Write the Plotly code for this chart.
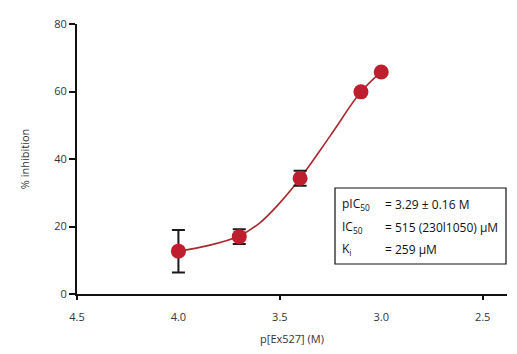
import plotly.graph_objects as go

# Data
p_conc = [4.0, 3.7, 3.4, 3.1, 3.0]
inhibition = [12.7, 17.0, 34.3, 59.9, 65.8]
err = [6.3, 2.2, 2.2, None, None]

fit_x = [4.0, 3.85, 3.70, 3.60, 3.50, 3.40, 3.25, 3.10, 3.0]
fit_y = [12.7, 14.4, 17.2, 21.0, 27.0, 34.3, 47.0, 59.9, 65.8]

x_ticks = [4.5, 4.0, 3.5, 3.0, 2.5]
x_tick_text = ["4.5", "4.0", "3.5", "3.0", "2.5"]
x_major = [4.5, 3.5, 2.5]
y_ticks = [0, 20, 40, 60, 80]

box_rows = [
    ("pIC<sub>50</sub>", "= 3.29 ± 0.16 M"),
    ("IC<sub>50</sub>", "= 515 (230l1050) µM"),
    ("K<sub>i</sub>", "= 259 µM"),
]

FONT = "Open Sans"
W, H = 517, 354
ml, mr, mt, mb = 77, 10, 24, 60
xr = [4.5, 2.38]
yr = [0, 80]

fig = go.Figure()
fig.add_trace(go.Scatter(
    x=fit_x, y=fit_y, mode="lines", line=dict(color="#A8282C", width=1.6, shape="spline", smoothing=1.0),
    hoverinfo="skip", showlegend=False))
fig.add_trace(go.Scatter(
    x=p_conc, y=inhibition, mode="markers",
    marker=dict(size=15, color="#BE1E2D"),
    error_y=dict(type="data", array=[e if e is not None else 0 for e in err],
                 visible=True, color="#1a1a1a", thickness=2, width=6.5),
    showlegend=False))
fig.add_trace(go.Scatter(x=[xr[0]], y=[None], xaxis="x2", showlegend=False, hoverinfo="skip"))

fig.update_layout(
    width=W, height=H, margin=dict(l=ml, r=mr, t=mt, b=mb),
    paper_bgcolor="white", plot_bgcolor="white",
    font=dict(family=FONT, size=11, color="#333333"),
    xaxis=dict(range=xr, tickvals=x_ticks, ticktext=x_tick_text, ticks="",
               ticklabelstandoff=12,
               showline=True, linecolor="#111111", linewidth=2, showgrid=False, zeroline=False,
               tickfont=dict(size=11, color="#333333"),
               title=dict(text="p[Ex527] (M)", font=dict(size=11, color="#333333"), standoff=12)),
    xaxis2=dict(range=xr, overlaying="x", anchor="y", side="bottom", tickvals=x_major,
                ticks="outside", ticklen=5, tickwidth=2, tickcolor="#111111",
                showticklabels=False, showline=False, showgrid=False, zeroline=False),
    yaxis=dict(range=yr, tickvals=y_ticks, ticks="outside", ticklen=6, tickwidth=2, tickcolor="#111111",
               showline=True, linecolor="#111111", linewidth=2, showgrid=False, zeroline=False,
               tickfont=dict(size=11, color="#333333"),
               title=dict(text="% inhibition", font=dict(size=11, color="#333333"), standoff=22)),
)

pw = W - ml - mr
ph = H - mt - mb
def px(x):
    return (x - ml) / pw
def py(y):
    return (H - mb - y) / ph

fig.add_shape(type="rect", xref="paper", yref="paper",
              x0=px(335), x1=px(506), y0=py(264), y1=py(188),
              line=dict(color="#111111", width=1.2), fillcolor="white", layer="above")
row_y = [204, 227, 249]
for (lab, val), yy in zip(box_rows, row_y):
    fig.add_annotation(x=px(340), y=py(yy), xref="paper", yref="paper", text=lab, showarrow=False,
                       xanchor="left", yanchor="middle", font=dict(size=12, color="#111111"))
    fig.add_annotation(x=px(383), y=py(yy), xref="paper", yref="paper", text=val, showarrow=False,
                       xanchor="left", yanchor="middle", font=dict(size=12, color="#111111"))

fig.write_html("out.html")
